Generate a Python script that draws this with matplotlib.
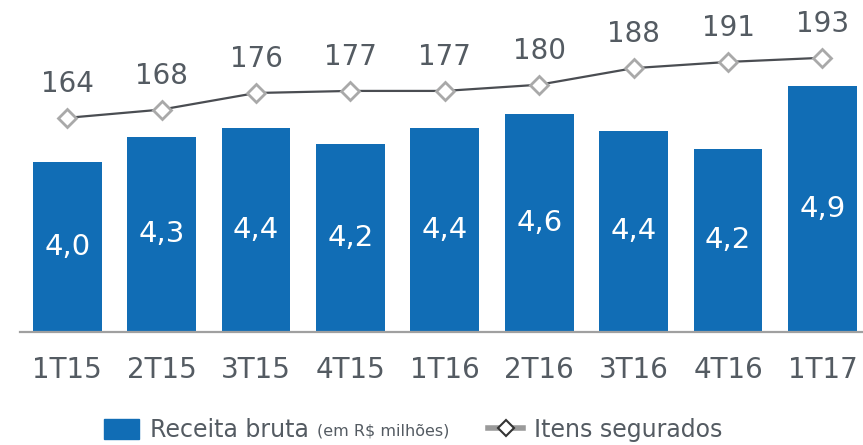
import matplotlib
matplotlib.use('Agg')
import matplotlib.pyplot as plt
from matplotlib.patches import Patch
from matplotlib.lines import Line2D

# data
periods = ['1T15', '2T15', '3T15', '4T15', '1T16', '2T16', '3T16', '4T16', '1T17']
receita = [4.01, 4.31, 4.42, 4.22, 4.42, 4.58, 4.38, 4.17, 4.91]
itens = [164, 168, 176, 177, 177, 180, 188, 191, 193]

bar_color = '#116db5'
text_gray = '#545b62'
line_gray = '#4a4d52'
marker_gray = '#a9a9a9'

fig = plt.figure(figsize=(8.63, 4.45), dpi=100)
ax = fig.add_axes([20 / 863, 1 - 332 / 445, 843 / 863, 332 / 445])

x = range(len(periods))
bars = ax.bar(x, receita, width=0.73, color=bar_color, zorder=2)
ax.set_xlim(-0.5, 8.43)
ax.set_ylim(2.0, 5.93)

for b, v in zip(bars, receita):
    ax.text(b.get_x() + b.get_width() / 2, (2.0 + v) / 2, f'{v:.1f}'.replace('.', ','),
            ha='center', va='center', color='white', fontsize=21, zorder=3)

ax.set_xticks(list(x))
ax.set_xticklabels(periods, fontsize=20, color=text_gray)
ax.tick_params(axis='x', length=0, pad=17.5)
ax.set_yticks([])
for s in ['top', 'left', 'right']:
    ax.spines[s].set_visible(False)
ax.spines['bottom'].set_color('#a0a0a0')
ax.spines['bottom'].set_linewidth(1.6)

ax2 = ax.twinx()
ax2.set_position(ax.get_position())
ax2.plot(list(x), itens, color=line_gray, lw=1.6, marker='D', markersize=9,
         markerfacecolor='white', markeredgecolor=marker_gray, markeredgewidth=2, zorder=4)
ax2.set_ylim(60.6, 220.9)
ax2.set_yticks([])
for s in ax2.spines.values():
    s.set_visible(False)
for xi, v in zip(x, itens):
    ax2.annotate(str(v), (xi, v), xytext=(0, 18.5), textcoords='offset points',
                 ha='center', va='baseline', fontsize=20, color=text_gray)

handles = [Patch(facecolor=bar_color, edgecolor=bar_color),
           Line2D([0], [0], color='#9a9a9a', lw=4, marker='D', markersize=8,
                  markerfacecolor='white', markeredgecolor='#333333', markeredgewidth=1.5)]
leg = fig.legend(handles, ['Receita bruta', 'Itens segurados'], loc='center',
                 bbox_to_anchor=(413 / 863, 1 - 430 / 445), ncol=2, frameon=False,
                 fontsize=17, labelcolor=text_gray, handlelength=1.5, handleheight=0.9,
                 handletextpad=0.45, columnspacing=7.6, borderpad=0)

fig.canvas.draw()
ext = leg.get_texts()[0].get_window_extent()
fx, fy = fig.transFigure.inverted().transform((ext.x1 + 8, ext.y0 + 3))
fig.text(fx, fy, '(em R$ milhões)', fontsize=11.5, color=text_gray, ha='left', va='bottom')

fig.savefig('out.png', dpi=100)
